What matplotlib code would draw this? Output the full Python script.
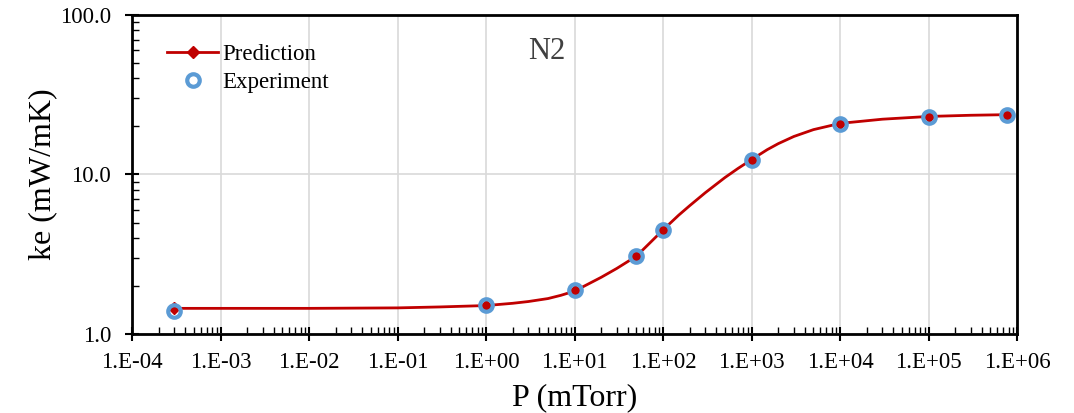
import matplotlib
matplotlib.use("Agg")
import matplotlib.pyplot as plt
from matplotlib.ticker import FixedLocator, LogLocator, NullFormatter

# experiment points
exp_p = [3e-4, 1, 10, 50, 100, 1000, 1e4, 1e5, 7.6e5]
exp_ke = [1.39, 1.52, 1.90, 3.10, 4.52, 12.4, 20.7, 22.9, 23.6]

# prediction curve
pred_p = [3e-4, 1e-3, 1e-2, 1e-1, 0.3, 1, 2, 3, 5, 7, 10, 20, 30, 50, 70,
          100, 150, 200, 300, 500, 700, 1000, 1500, 2000, 3000, 5000, 1e4,
          3e4, 1e5, 3e5, 7.6e5]
pred_ke = [1.45, 1.45, 1.45, 1.46, 1.48, 1.51, 1.56, 1.60, 1.67, 1.75,
           1.86, 2.27, 2.58, 3.08, 3.7, 4.5, 5.56, 6.38, 7.69, 9.57, 10.9,
           12.4, 14.3, 15.6, 17.3, 19.1, 20.9, 22.2, 23.1, 23.5, 23.7]

xticks = [1e-4, 1e-3, 1e-2, 1e-1, 1, 10, 100, 1e3, 1e4, 1e5, 1e6]
xtick_labels = ["1.E-04", "1.E-03", "1.E-02", "1.E-01", "1.E+00", "1.E+01",
                "1.E+02", "1.E+03", "1.E+04", "1.E+05", "1.E+06"]
yticks = [1, 10, 100]
ytick_labels = ["1.0", "10.0", "100.0"]

plt.rcParams['font.family'] = ['Liberation Serif', 'DejaVu Serif']

fig = plt.figure(figsize=(10.74, 4.13), dpi=100)
ax = fig.add_axes([0.123, 0.191, 0.824, 0.773])

# prediction markers only where the experiment was measured
marker_idx = [i for i, p in enumerate(pred_p) if p in exp_p]

ax.plot(pred_p, pred_ke, color='#c00000', lw=2, marker='D', ms=6.5,
        markevery=marker_idx, label='Prediction', zorder=3)
ax.plot(exp_p, exp_ke, ls='none', marker='o', ms=9, mfc='none',
        mec='#5b9bd5', mew=3, label='Experiment', zorder=4)

ax.set_xscale('log')
ax.set_yscale('log')
ax.set_xlim(1e-4, 1e6)
ax.set_ylim(1, 100)

ax.xaxis.set_major_locator(FixedLocator(xticks))
ax.set_xticklabels(xtick_labels)
ax.yaxis.set_major_locator(FixedLocator(yticks))
ax.set_yticklabels(ytick_labels)
ax.xaxis.set_minor_locator(LogLocator(base=10, subs=range(2, 10), numticks=20))
ax.yaxis.set_minor_locator(LogLocator(base=10, subs=range(2, 10), numticks=20))
ax.xaxis.set_minor_formatter(NullFormatter())
ax.yaxis.set_minor_formatter(NullFormatter())

ax.tick_params(which='major', direction='inout', length=10, width=1.5,
               labelsize=16.5, colors='black')
ax.tick_params(which='minor', direction='in', length=5, width=1)
ax.tick_params(axis='x', which='major', pad=8)
ax.tick_params(axis='y', which='major', pad=10)

ax.grid(True, which='major', color='#d9d9d9', lw=1.2)
ax.set_axisbelow(True)
for s in ax.spines.values():
    s.set_linewidth(2)

ax.set_xlabel('P (mTorr)', fontsize=23, labelpad=7)
ax.set_ylabel('ke (mW/mK)', fontsize=23, labelpad=2)

ax.text(0.468, 0.885, 'N2', transform=ax.transAxes, fontsize=22,
        ha='center', va='center', color='#404040')

ax.legend(loc='upper left', bbox_to_anchor=(0.027, 0.945), frameon=False,
          fontsize=16.5, handlelength=2.2, handletextpad=0.2,
          borderpad=0, labelspacing=0.3)

fig.savefig('out.png', dpi=100)
